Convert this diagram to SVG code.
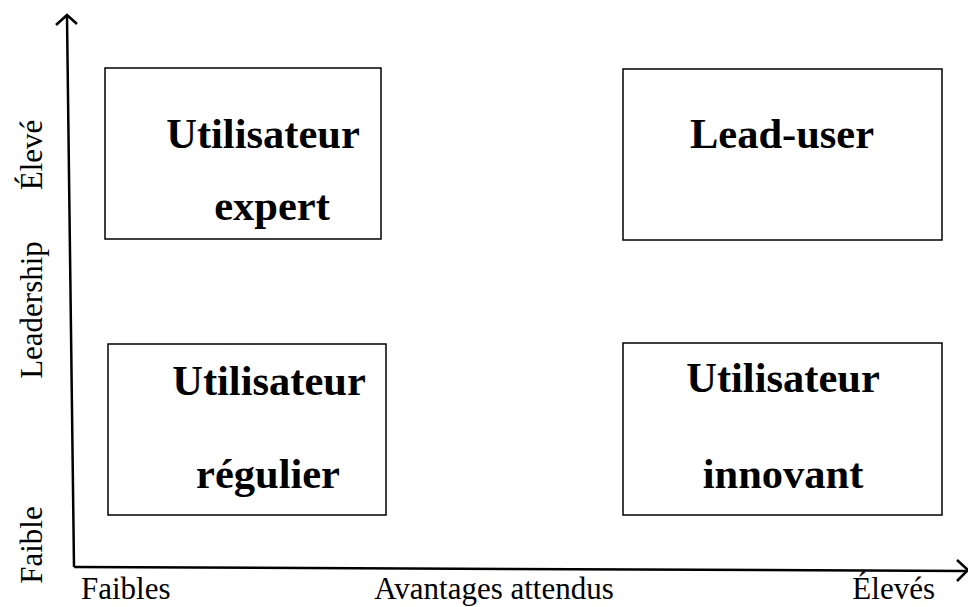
<svg xmlns="http://www.w3.org/2000/svg" width="968" height="607" viewBox="0 0 968 607">
<style>
.box{fill:#fff;stroke:#000;stroke-width:1.5}
.t{font-family:"Liberation Serif","Times New Roman",serif;font-weight:bold;font-size:42.5px;fill:#000;text-anchor:middle}
.l{font-family:"Liberation Serif","Times New Roman",serif;font-size:31px;fill:#000}
.ax{stroke:#000;stroke-width:2.5;fill:none}
</style>
<rect width="968" height="607" fill="#fff"/>
<g id="connectors">
<path class="ax" d="M74,567 L67,17"/>
<path class="ax" d="M56,25 L67,15 L77,24"/>
<path class="ax" d="M74,567 L966,571"/>
<path class="ax" d="M957,560 L968,570 L957,581"/>
</g>
<g id="expert">
<rect class="box" x="105" y="68" width="276" height="171"/>
<text class="t" x="263" y="148">Utilisateur</text>
<text class="t" x="272" y="220">expert</text>
</g>
<g id="leaduser">
<rect class="box" x="623" y="69" width="319" height="171"/>
<text class="t" x="782" y="148">Lead-user</text>
</g>
<g id="regulier">
<rect class="box" x="108" y="344" width="278" height="171"/>
<text class="t" x="269" y="395">Utilisateur</text>
<text class="t" x="268" y="488">régulier</text>
</g>
<g id="innovant">
<rect class="box" x="623" y="343" width="319" height="172"/>
<text class="t" x="783" y="392">Utilisateur</text>
<text class="t" x="783" y="488">innovant</text>
</g>
<g id="labels">
<text class="l" x="81" y="599">Faibles</text>
<text class="l" x="494" y="599" text-anchor="middle">Avantages attendus</text>
<text class="l" x="935" y="599" text-anchor="end">Élevés</text>
<text class="l" transform="translate(42,155) rotate(-90)" text-anchor="middle">Élevé</text>
<text class="l" transform="translate(42,310) rotate(-90)" text-anchor="middle">Leadership</text>
<text class="l" transform="translate(42,545) rotate(-90)" text-anchor="middle">Faible</text>
</g>
</svg>
